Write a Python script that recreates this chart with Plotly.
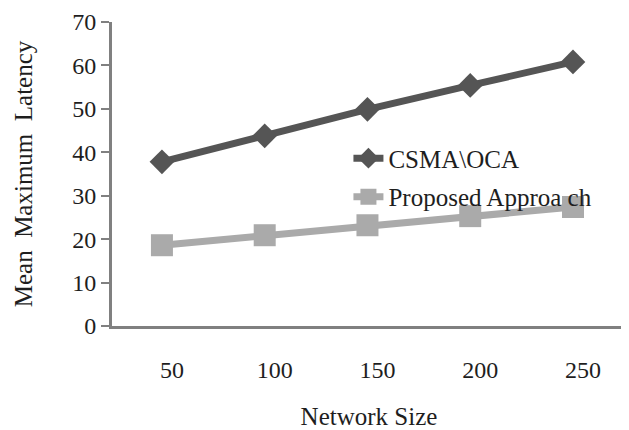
import plotly.graph_objects as go

network_size = [50, 100, 150, 200, 250]
csma_oca = [37.8, 43.8, 49.9, 55.4, 60.8]
proposed = [18.6, 20.9, 23.2, 25.3, 27.4]
y_ticks = [0, 10, 20, 30, 40, 50, 60, 70]

FONT = "Liberation Serif"
TXT = "#1e1e1e"

fig = go.Figure()
fig.add_trace(go.Scatter(
    x=network_size, y=csma_oca, name="CSMA\\OCA", mode="lines+markers",
    line=dict(color="#555555", width=7),
    marker=dict(symbol="diamond", size=19, color="#555555"),
    legendgroup="a",
))
fig.add_trace(go.Scatter(
    x=network_size, y=proposed, name="Proposed Approa ch", mode="lines+markers",
    line=dict(color="#aaaaaa", width=7),
    marker=dict(symbol="square", size=22, color="#aaaaaa"),
    legendgroup="b",
))

# page body has an 8px default margin, so the figure is 8px smaller
fig.update_layout(
    width=621, height=422,
    margin=dict(l=104, r=3, t=14, b=104),
    paper_bgcolor="white", plot_bgcolor="white",
    font=dict(family=FONT, size=24, color=TXT),
    showlegend=True,
    legend=dict(
        x=0.46, y=0.627, xanchor="left", yanchor="top",
        bgcolor="rgba(0,0,0,0)", font=dict(family=FONT, size=25, color=TXT),
        tracegroupgap=3, traceorder="grouped",
    ),
    xaxis=dict(
        range=[25.7, 275.8], tickvals=network_size, ticktext=[str(v) for v in network_size],
        showgrid=False, zeroline=False, showline=True, linecolor="#808080", linewidth=3,
        ticks="", ticklabelstandoff=20, ticklabelshift=10,
        tickfont=dict(family=FONT, size=24, color=TXT),
        title=dict(text="Network Size", font=dict(family=FONT, size=25, color=TXT), standoff=34),
        automargin=False,
    ),
    yaxis=dict(
        range=[0, 70], tickvals=y_ticks,
        showgrid=False, zeroline=False, showline=True, linecolor="#808080", linewidth=3,
        ticks="outside", ticklen=8, tickwidth=2, tickcolor="#808080",
        tickfont=dict(family=FONT, size=24, color=TXT),
        title=dict(text="Mean  Maximum  Latency", font=dict(family=FONT, size=25, color=TXT), standoff=33),
        automargin=False,
    ),
)

fig.write_html("out.html")
